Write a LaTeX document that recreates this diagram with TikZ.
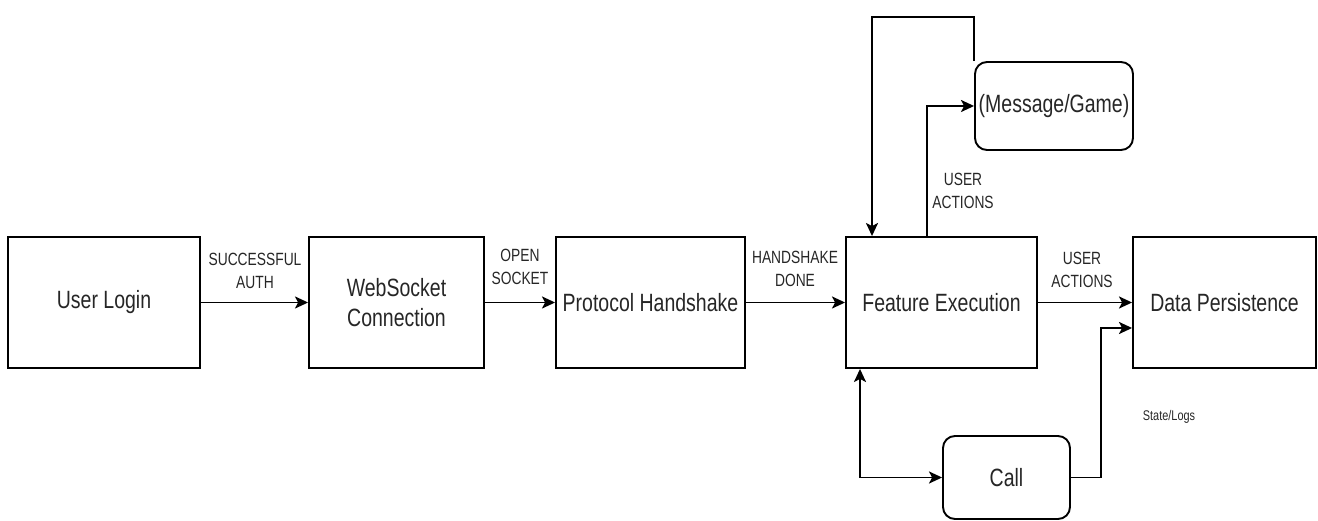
\documentclass[tikz,border=0pt]{standalone}
\usepackage{fontspec}
\setmainfont{Liberation Sans}
\newfontfamily\cond[FakeStretch=0.78]{Liberation Sans}
\usetikzlibrary{arrows.meta}
\begin{document}
\begin{tikzpicture}[x=1pt,y=-1pt,
  box/.style={draw, line width=1.9pt, inner sep=0pt, align=center, text=black!85,
    font=\cond\fontsize{25}{30}\selectfont},
  rbox/.style={box, rounded corners=12pt},
  lbl/.style={font=\cond\fontsize{17.7}{23}\selectfont, align=center, text=black!85, inner sep=0pt},
  small/.style={font=\cond\fontsize{14}{17}\selectfont, text=black!85, inner sep=0pt},
  tip/.tip={Stealth[length=13pt,width=12pt,inset=3pt]},
  arr/.style={line width=1.9pt, -tip},
  darr/.style={line width=1.9pt, tip-tip}]
\useasboundingbox (0,0) rectangle (1318,521);

% boxes
\node[box, minimum width=192pt, minimum height=131pt] (ul) at (104,302.5) {User Login};
\node[box, minimum width=175pt, minimum height=131pt] (ws) at (396.5,302.5) {WebSocket\\Connection};
\node[box, minimum width=189pt, minimum height=131pt] (ph) at (650.5,302.5) {Protocol Handshake};
\node[box, minimum width=191pt, minimum height=131pt] (fe) at (941.5,302.5) {Feature Execution};
\node[box, minimum width=183pt, minimum height=131pt] (dp) at (1224.5,302.5) {Data Persistence};
\node[rbox, minimum width=158pt, minimum height=88pt] (mg) at (1054,106) {(Message/Game)};
\node[rbox, minimum width=127pt, minimum height=83pt] (call) at (1006.5,477.5) {Call};

% labels
\node[lbl] (l1) at (255,271) {SUCCESSFUL\\AUTH};
\node[lbl] (l2) at (520,267) {OPEN\\SOCKET};
\node[lbl] (l3) at (795,269) {HANDSHAKE\\DONE};
\node[lbl] (l4) at (1082,270) {USER\\ACTIONS};
\node[lbl] (l5) at (963,191) {USER\\ACTIONS};
\node[small] (l6) at (1169,417) {State/Logs};

% helper coordinates
\coordinate (up1) at (927,0);
\coordinate (top) at (0,17);
\coordinate (lp) at (872,0);
\coordinate (dn) at (860,0);
\coordinate (cr) at (1101,0);
\coordinate (sl) at (0,328);

% main flow
\draw[arr] (ul) -- (ws);
\draw[arr] (ws) -- (ph);
\draw[arr] (ph) -- (fe);
\draw[arr] (fe) -- (dp);

% feature to message/game
\draw[arr] (fe.north -| up1) |- (mg.west);
% loop back
\draw[arr] (mg.north west) -- (mg.north west |- top) -| (fe.north -| lp);
% feature <-> call
\draw[darr] (fe.south -| dn) |- (call.west);
% call to data persistence
\draw[arr] (call.east) -| (cr |- sl) -- (dp.west |- sl);
\end{tikzpicture}
\end{document}
